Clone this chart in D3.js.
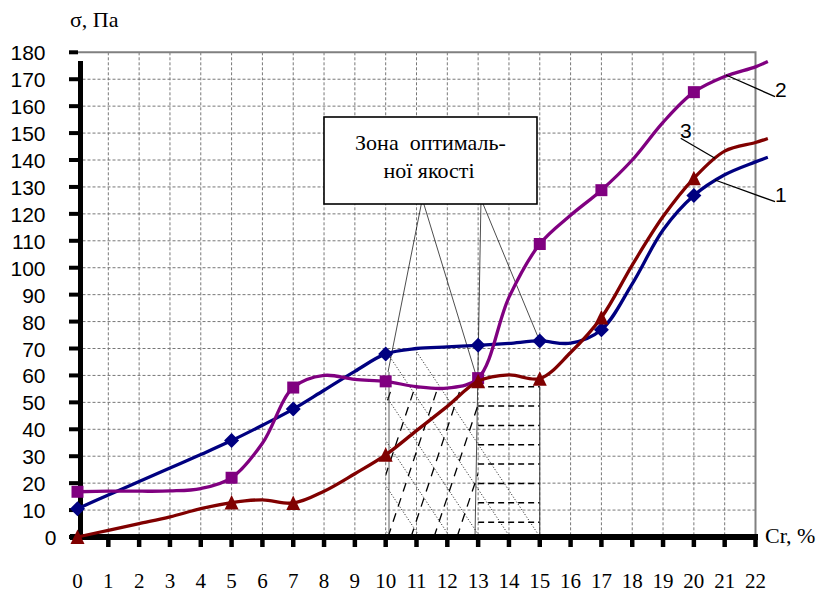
<!DOCTYPE html>
<html>
<head>
<meta charset="utf-8">
<script src="https://cdn.jsdelivr.net/npm/d3@7"></script>
<style>
  body { margin: 0; background: #fff; }
  svg { display: block; }
  .serif { font-family: "Liberation Serif", "Times New Roman", "DejaVu Serif", serif; }
  .sans { font-family: "Liberation Sans", Arial, sans-serif; }
</style>
</head>
<body>
<div id="wrapper"></div>
<script>
// data
const xValues = [0,1,2,3,4,5,6,7,8,9,10,11,12,13,14,15,16,17,18,19,20,21,22,22.4]
const series1 = [10.5,15.6,20.6,25.6,30.6,35.8,41.5,47.5,54.5,61.5,68,70,70.6,71.2,71.9,72.8,72,77,94,114,126.8,134.5,139.3,141]
const series2 = [16.8,17,17,17.1,18,22,34.8,55.5,60,58.5,57.8,55.8,55.3,59,89,108.8,119.5,128.8,140,154,165.2,171,174.6,176.6]
const series3 = [0,2.5,5,7.5,10.5,12.8,13.8,12.6,17,23.5,30.5,39.5,48.5,57.8,60.2,58.8,68.5,81.5,101,119,133.2,143.3,146.5,148]
const markerX = [0,5,7,10,13,15,17,20]
const xTicks = d3.range(0, 23)
const yTicks = d3.range(0, 181, 10)

const seriesList = [
  {name: "1", values: series1, color: "#000080", marker: "diamond"},
  {name: "2", values: series2, color: "#800080", marker: "square"},
  {name: "3", values: series3, color: "#800000", marker: "triangle"},
]

const width = 822
const height = 593

const svg = d3.select("#wrapper")
  .append("svg")
  .attr("width", width)
  .attr("height", height)

const xScale = d3.scaleLinear().domain([0, 22]).range([77.5, 755.5])
const yScale = d3.scaleLinear().domain([0, 180]).range([537, 52.3])

// grid
const grid = svg.append("g")
grid.selectAll(".gx")
  .data(xTicks.slice(1, -1))
  .enter().append("line")
    .attr("x1", d => xScale(d)).attr("x2", d => xScale(d))
    .attr("y1", yScale(180)).attr("y2", yScale(0))
    .attr("stroke", "#777").attr("stroke-width", 1)
    .attr("stroke-dasharray", "3,2")
grid.selectAll(".gy")
  .data(yTicks.slice(1, -1))
  .enter().append("line")
    .attr("x1", xScale(0)).attr("x2", xScale(22))
    .attr("y1", d => yScale(d)).attr("y2", d => yScale(d))
    .attr("stroke", "#777").attr("stroke-width", 1)
    .attr("stroke-dasharray", "3,2")

// top and right border
svg.append("path")
  .attr("d", `M${xScale(0)},${yScale(180)}H${xScale(22)}V${yScale(0)}`)
  .attr("fill", "none").attr("stroke", "#808080").attr("stroke-width", 2)

// hatched zone
const defs = svg.append("defs")
const poly = pts => pts.map(p => [xScale(p[0]), yScale(p[1])])
defs.append("clipPath").attr("id", "zoneAll")
  .append("polygon").attr("points", poly([[10,68],[13,71],[15,72],[15,0],[10,0]]).join(" "))
defs.append("clipPath").attr("id", "zoneA")
  .append("polygon").attr("points", poly([[10,55],[13,55],[13,0],[10,0]]).join(" "))

const hatch = svg.append("g")
// "\" dotted lines
hatch.append("g").attr("clip-path", "url(#zoneAll)")
  .selectAll("line")
  .data(d3.range(240, 560, 30))
  .enter().append("line")
    .attr("x1", d => d - 140).attr("y1", yScale(0) - 210)
    .attr("x2", d => d).attr("y2", yScale(0))
    .attr("stroke", "#111").attr("stroke-width", 1)
    .attr("stroke-dasharray", "1,2")
// "/" long dashed lines
hatch.append("g").attr("clip-path", "url(#zoneA)")
  .selectAll("line")
  .data(d3.range(342, 480, 23))
  .enter().append("line")
    .attr("x1", d => d).attr("y1", yScale(0))
    .attr("x2", d => d + 60).attr("y2", yScale(0) - 180)
    .attr("stroke", "#000").attr("stroke-width", 1.3)
    .attr("stroke-dasharray", "9,7")
// horizontal dashes in 13..15
hatch.selectAll(".hd")
  .data(d3.range(386.7, 530, 19.35))
  .enter().append("line")
    .attr("x1", xScale(13)).attr("x2", xScale(15))
    .attr("y1", d => d).attr("y2", d => d)
    .attr("stroke", "#000").attr("stroke-width", 1.5)
    .attr("stroke-dasharray", "6,4")
// solid borders of the zone
hatch.append("line")
  .attr("x1", xScale(15)).attr("x2", xScale(15))
  .attr("y1", 386.7).attr("y2", yScale(0))
  .attr("stroke", "#333").attr("stroke-width", 1)
hatch.append("line")
  .attr("x1", 389).attr("x2", 389)
  .attr("y1", 372).attr("y2", yScale(0))
  .attr("stroke", "#333").attr("stroke-width", 0.8)

// callout box with pointer lines
const pointers = [
  [[422.3, 199], [388, 372]],
  [[422.3, 199], [479, 385]],
  [[481, 199], [475, 537]],
  [[481, 199], [538, 337]],
]
svg.append("g").selectAll("line")
  .data(pointers)
  .enter().append("line")
    .attr("x1", d => d[0][0]).attr("y1", d => d[0][1])
    .attr("x2", d => d[1][0]).attr("y2", d => d[1][1])
    .attr("stroke", "#000").attr("stroke-width", 0.7)

svg.append("rect")
  .attr("x", 324).attr("y", 117)
  .attr("width", 213).attr("height", 87)
  .attr("fill", "#fff").attr("stroke", "#000").attr("stroke-width", 1.6)
const boxText = svg.append("text")
  .attr("class", "serif")
  .attr("font-size", 22)
  .attr("text-anchor", "middle")
boxText.append("tspan").attr("x", 430.5).attr("y", 150).style("white-space", "pre").text("Зона  оптималь-")
boxText.append("tspan").attr("x", 429).attr("y", 178).text("ної якості")

// axes
svg.append("line")
  .attr("x1", 80.5).attr("x2", 80.5)
  .attr("y1", 61).attr("y2", 540)
  .attr("stroke", "#000").attr("stroke-width", 5)
svg.append("line")
  .attr("x1", 70).attr("x2", 758)
  .attr("y1", 537).attr("y2", 537)
  .attr("stroke", "#000").attr("stroke-width", 6)
svg.append("g").selectAll("line")
  .data(yTicks)
  .enter().append("line")
    .attr("x1", 69).attr("x2", 78)
    .attr("y1", d => yScale(d)).attr("y2", d => yScale(d))
    .attr("stroke", "#000").attr("stroke-width", 4)
svg.append("g").selectAll("line")
  .data(xTicks.slice(1))
  .enter().append("line")
    .attr("x1", d => xScale(d)).attr("x2", d => xScale(d))
    .attr("y1", 537).attr("y2", 547)
    .attr("stroke", "#000").attr("stroke-width", 4.5)

svg.append("g").selectAll("text")
  .data(yTicks)
  .enter().append("text")
    .attr("class", "sans")
    .attr("x", d => d === 0 ? 56.5 : 45.5)
    .attr("y", d => yScale(d) + 8)
    .attr("text-anchor", "end")
    .attr("font-size", 21)
    .text(d => d)

svg.append("g").selectAll("text")
  .data(xTicks)
  .enter().append("text")
    .attr("class", "serif")
    .attr("x", d => xScale(d))
    .attr("y", 588)
    .attr("text-anchor", "middle")
    .attr("font-size", 21)
    .text(d => d)

svg.append("text")
  .attr("class", "serif")
  .attr("x", 70).attr("y", 27)
  .attr("font-size", 22)
  .text("σ, Па")
svg.append("text")
  .attr("class", "serif")
  .attr("x", 765).attr("y", 543)
  .attr("font-size", 22)
  .text("Cr, %")

// series
const line = d3.line()
  .x(d => xScale(d[0]))
  .y(d => yScale(d[1]))
  .curve(d3.curveCatmullRom.alpha(0.5))

const markerPath = {
  diamond: "M0,-7.5L7.5,0L0,7.5L-7.5,0Z",
  square: "M-6,-6H6V6H-6Z",
  triangle: "M0,-7.5L7,7L-7,7Z",
}

seriesList.forEach(s => {
  const pts = xValues.map((x, i) => [x, s.values[i]])
  const g = svg.append("g")
  g.append("path")
    .datum(pts)
    .attr("d", line)
    .attr("fill", "none")
    .attr("stroke", s.color)
    .attr("stroke-width", 3.3)
  g.selectAll("path.m")
    .data(pts.filter(p => markerX.includes(p[0])))
    .enter().append("path")
      .attr("class", "m")
      .attr("transform", d => `translate(${xScale(d[0])},${yScale(d[1])})`)
      .attr("d", markerPath[s.marker])
      .attr("fill", s.color)
})

// curve labels with leaders
const curveLabels = [
  {text: "2", tx: 775, ty: 97, line: [[726, 75], [775, 96.7]]},
  {text: "3", tx: 680, ty: 138, line: [[680.7, 138.3], [715, 158.3]]},
  {text: "1", tx: 775, ty: 202, line: [[715, 180], [775, 201.7]]},
]
const lg = svg.append("g")
lg.selectAll("line")
  .data(curveLabels)
  .enter().append("line")
    .attr("x1", d => d.line[0][0]).attr("y1", d => d.line[0][1])
    .attr("x2", d => d.line[1][0]).attr("y2", d => d.line[1][1])
    .attr("stroke", "#000").attr("stroke-width", 1.3)
lg.selectAll("text")
  .data(curveLabels)
  .enter().append("text")
    .attr("class", "sans")
    .attr("x", d => d.tx).attr("y", d => d.ty)
    .attr("font-size", 21)
    .text(d => d.text)
</script>
</body>
</html>
